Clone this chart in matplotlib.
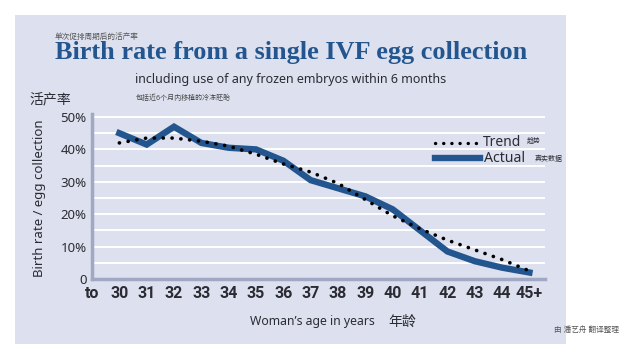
import numpy as np
import matplotlib
matplotlib.use('Agg')
from matplotlib import pyplot as plt
from matplotlib.patches import Rectangle

plt.rcParams['font.family'] = ['Noto Sans', 'Noto Sans CJK SC', 'DejaVu Sans']

# data
age_labels = ['to', '30', '31', '32', '33', '34', '35', '36', '37', '38', '39',
              '40', '41', '42', '43', '44', '45+']
actual = [45, 41.5, 47, 42, 40.5, 40, 36.5, 30.5, 28, 25.5, 21.5, 15, 8.5, 5.5, 3.5, 2]
trend = [42, 43.5, 43.5, 42.5, 41, 38.5, 35.5, 33, 29.5, 24.5, 19.5, 15.5, 12, 9, 6, 2.5]
y_ticks = [0, 10, 20, 30, 40, 50]
y_labels = ['0', '10%', '20%', '30%', '40%', '50%']

panel = '#dde1ef'
blue = '#23568f'
dark = '#2b2b33'

fig = plt.figure(figsize=(6.4, 3.6), dpi=100)
fig.patch.set_facecolor('white')
fig.patches.append(Rectangle((15 / 640, 1 - 344 / 360), (566 - 15) / 640, (344 - 15) / 360,
                             transform=fig.transFigure, facecolor=panel, edgecolor='none', zorder=-5))

ax = fig.add_axes([92 / 640, 81 / 360, (545 - 92) / 640, 51 * 3.24 / 360])
ax.set_facecolor(panel)
x = np.arange(1, len(actual) + 1)

for g in np.arange(5, 51, 5):
    ax.axhline(g, color='white', lw=1.4, zorder=1)

ax.plot(x, trend, color='black', lw=2.6, linestyle=(0, (0.05, 2.4)),
        dash_capstyle='round', zorder=3)
ax.plot(x, actual, color=blue, lw=4.6, solid_joinstyle='miter', zorder=2)

ax.set_xlim(0, 16.57)
ax.set_ylim(0, 51)
ax.set_xticks(np.arange(len(age_labels)))
ax.set_xticklabels(age_labels, fontsize=11.5, fontweight='bold', family='Roboto', color=dark)
ax.set_yticks(y_ticks)
ax.set_yticklabels(y_labels, fontsize=9.5, color=dark)
ax.tick_params(length=0, pad=4)
ax.tick_params(axis='x', pad=5)
for s in ['top', 'right']:
    ax.spines[s].set_visible(False)
for s in ['left', 'bottom']:
    ax.spines[s].set_color('#a0a8c4')
    ax.spines[s].set_linewidth(2.5)

# legend drawn by hand
lx = [435 / 640, 480 / 640]
fig.add_artist(plt.Line2D(lx, [1 - 143 / 360] * 2, color='black', lw=2.4,
                          linestyle=(0, (0.05, 2.4)), dash_capstyle='round'))
fig.add_artist(plt.Line2D(lx, [1 - 158 / 360] * 2, color=blue, lw=4.6))
fig.text(483 / 640, 1 - 143 / 360, 'Trend', fontsize=10, color=dark, va='center')
fig.text(527 / 640, 1 - 141 / 360, '趋势', fontsize=5, color=dark, va='center')
fig.text(484 / 640, 1 - 158 / 360, 'Actual', fontsize=10.2, color=dark, va='center')
fig.text(535 / 640, 1 - 159 / 360, '真实数据', fontsize=5, color=dark, va='center')

# titles and labels
fig.text(55 / 640, 1 - 37 / 360, '单次促排周期后的活产率', fontsize=5.5, color='#555555', va='center')
fig.text(55 / 640, 1 - 52 / 360, 'Birth rate from a single IVF egg collection',
         fontsize=18.9, fontweight='bold', family='Liberation Serif', color=blue, va='center')
fig.text(135 / 640, 1 - 80 / 360, 'including use of any frozen embryos within 6 months',
         fontsize=9, color=dark, va='center')
fig.text(136 / 640, 1 - 98 / 360, '包括近6个月内移植的冷冻胚胎', fontsize=5, color='#444444', va='center')
fig.text(29 / 640, 1 - 100 / 360, '活产率', fontsize=10, color=dark, va='center')
fig.text(40 / 640, 1 - 198 / 360, 'Birth rate / egg collection', fontsize=9.5, color=dark,
         rotation=90, ha='center', va='center')
fig.text(250 / 640, 1 - 322 / 360, 'Woman\u2019s age in years', fontsize=8.8, color=dark, va='center')
fig.text(388 / 640, 1 - 322 / 360, '年龄', fontsize=10, color=dark, va='center')
fig.text(554 / 640, 1 - 330 / 360, '由 潘艺舟 翻译整理', fontsize=5.5, color='#555555', va='center')

plt.savefig('out.png', dpi=100)
